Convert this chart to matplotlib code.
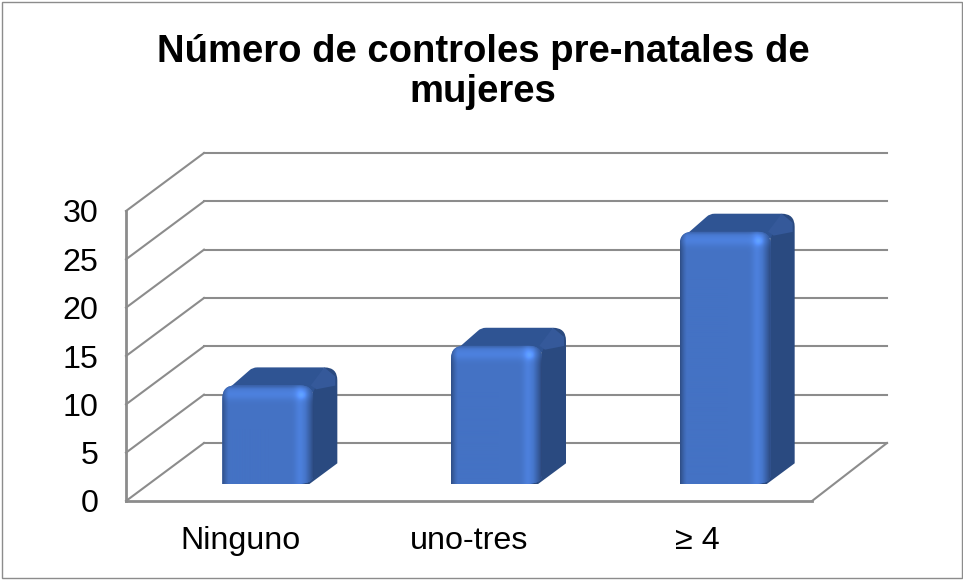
"""Numero de controles pre-natales: columnas con falso 3D estilo Excel."""
import numpy as np

import matplotlib
matplotlib.use("Agg")
import matplotlib.pyplot as plt
from matplotlib.patches import PathPatch, Polygon, Rectangle
from matplotlib.path import Path
from matplotlib.transforms import Affine2D

CATEGORIAS = ["Ninguno", "uno-tres", "≥ 4"]
VALORES = [10.2, 14.3, 26.1]
TICKS_Y = [0, 5, 10, 15, 20, 25, 30]
TITULO = "Número de controles pre-natales de\nmujeres"

W, H = 963, 580
GRIS = "#8c8c8c"
FRENTE = np.array([0x44, 0x72, 0xC4]) / 255
LADO = "#2a4a80"
TAPA = "#2f5493"
ESQUINA = "#35599a"

plt.rcParams["font.family"] = ["Liberation Sans", "DejaVu Sans"]

fig = plt.figure(figsize=(W / 100, H / 100), dpi=100, facecolor="white")
fig.add_artist(Rectangle((1.5 / W, 2.5 / H), (W - 3) / W, (H - 4) / H, transform=fig.transFigure,
                         fill=False, ec=GRIS, lw=1))
ax = fig.add_axes([126 / W, (H - 501) / H, 686 / W, 290 / H])
ax.patch.set_visible(False)
for s in ax.spines.values():
    s.set_visible(False)

# pixeles por unidad de datos, para pasar los desplazamientos de profundidad
px_x = 686 / 3
px_y = 290 / 30
fondo_x, fondo_y = 78 / px_x, 58 / px_y

# paredes: rejilla del fondo, diagonales y piso
for t in TICKS_Y:
    ax.plot([fondo_x, 3 + fondo_x - 3 / px_x], [t + fondo_y] * 2, color=GRIS, lw=1.5, clip_on=False, zorder=1)
    ax.plot([0, fondo_x], [t, t + fondo_y], color=GRIS, lw=1.5, clip_on=False, zorder=1)
ax.plot([3, 3 + fondo_x - 3 / px_x], [0, fondo_y], color=GRIS, lw=1.5, clip_on=False, zorder=1)
ax.plot([0, 0], [0, 30], color=GRIS, lw=2, clip_on=False, zorder=2)
ax.plot([0, 3], [0, 0], color=GRIS, lw=2, clip_on=False, zorder=2)

# las columnas van corridas hacia el fondo respecto del plano frontal
prof_tr = ax.transData + Affine2D().translate(27.5, 17)
ancho = 91 / px_x
dx, dy = 24 / px_x, 18 / px_y
rx, ry = 13 / px_x, 13 / px_y
ux, uy = 1 / px_x, 1 / px_y


def textura(w, h):
    """Sombreado del bisel de la cara frontal (RGB en pixeles)."""
    xx, yy = np.meshgrid(np.arange(w) + 0.5, np.arange(h) + 0.5)
    luz = np.ones((h, w))
    luz *= 1 - 0.33 * np.clip(1 - xx / 7, 0, 1) ** 1.3
    luz *= 1 + 0.12 * np.exp(-((xx - (w - 14)) / 5) ** 2)
    luz *= 1 - 0.38 * np.clip(1 - (w - xx) / 9, 0, 1) ** 1.3
    luz *= 1 + 0.13 * np.exp(-((yy - 9) / 6) ** 2)
    luz *= 1 - 0.18 * np.clip(1 - yy / 4, 0, 1)
    luz *= 1 + 0.15 * np.exp(-(((xx - (w - 12)) / 4) ** 2 + ((yy - 10) / 4) ** 2))
    return np.clip(luz[..., None] * FRENTE, 0, 1)


barras = ax.bar(np.arange(3) + 0.5, VALORES, ancho, color=FRENTE, transform=prof_tr, zorder=5)

for barra, v in zip(barras, VALORES):
    x0, x1 = barra.get_x(), barra.get_x() + barra.get_width()
    # lado derecho
    ax.add_patch(PathPatch(Path(
        [(x1 - rx * 1.2, 0), (x1 - rx * 0.3, 0), (x1 + dx, dy * 1.15), (x1 + dx, v + dy - ry),
         (x1 + dx, v + dy), (x1 + dx - rx, v + dy), (x1, v), (x1 - rx * 1.2, 0)],
        [Path.MOVETO, Path.LINETO, Path.LINETO, Path.LINETO, Path.CURVE3, Path.CURVE3, Path.LINETO, Path.CLOSEPOLY]),
        fc=LADO, ec="none", transform=prof_tr, zorder=3, clip_on=False))
    # tapa superior
    ax.add_patch(PathPatch(Path(
        [(x0 + 3 * ux, v - 6 * uy), (x0 + dx + 3 * ux, v + dy - 3 * uy), (x0 + dx + 6 * ux, v + dy), (x0 + dx + 11 * ux, v + dy),
         (x1 + dx - rx, v + dy), (x1, v - ry * 0.5), (x0 + 3 * ux, v - 6 * uy)],
        [Path.MOVETO, Path.LINETO, Path.CURVE3, Path.CURVE3, Path.LINETO, Path.LINETO, Path.CLOSEPOLY]),
        fc=TAPA, ec="none", transform=prof_tr, zorder=4, clip_on=False))
    ax.add_patch(Polygon(
        [(x1 - rx * 0.2, v), (x1 + dx - rx, v + dy), (x1 + dx - 2 * ux, v + dy - ry * 0.7), (x1 + dx - 2 * ux, v + dy - ry * 1.4),
         (x1 + 3 * ux, v - ry * 0.3)],
        closed=True, fc=ESQUINA, ec="none", transform=prof_tr, zorder=4, clip_on=False))
    # cara frontal redondeada: la barra y su sombreado se recortan con el mismo contorno
    rb = rx * 0.35
    contorno = Path(
        [(x0, 0), (x0, v - ry), (x0, v), (x0 + rx, v), (x1 - rx, v), (x1, v), (x1, v - ry),
         (x1, ry * 0.7), (x1, 0), (x1 - rx * 1.2, 0), (x0 + rb, 0), (x0, 0)],
        [Path.MOVETO, Path.LINETO, Path.CURVE3, Path.CURVE3, Path.LINETO, Path.CURVE3, Path.CURVE3,
         Path.LINETO, Path.CURVE3, Path.CURVE3, Path.LINETO, Path.CLOSEPOLY])
    barra.set_clip_path(contorno, transform=prof_tr)
    im = ax.imshow(textura(int(round(ancho * px_x)), int(round(v * px_y))), extent=[x0, x1, 0, v], aspect="auto",
                   transform=prof_tr, interpolation="bilinear", zorder=6)
    im.set_clip_path(contorno, transform=prof_tr)

ax.set_xlim(0, 3)
ax.set_ylim(0, 30)
ax.set_xticks(np.arange(3) + 0.5, CATEGORIAS)
ax.set_yticks(TICKS_Y)
ax.tick_params(axis="y", length=0, pad=20, labelsize=23.2, labelcolor="black")
ax.tick_params(axis="x", length=0, pad=18, labelsize=23.2, labelcolor="black")

fig.text(483 / W, 1 - 72 / H, TITULO, ha="center", va="center", fontsize=27.5, fontweight="bold", linespacing=1.14)

fig.savefig("out.png", dpi=100)
